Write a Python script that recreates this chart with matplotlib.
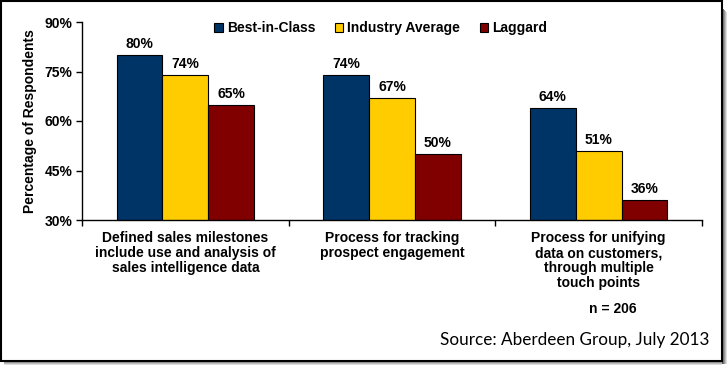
import numpy as np
import matplotlib
matplotlib.use("Agg")
import matplotlib.pyplot as plt
from matplotlib.patches import Rectangle

# data
categories = ["Defined sales milestones\ninclude use and analysis of\nsales intelligence data",
              "Process for tracking\nprospect engagement",
              "Process for unifying\ndata on customers,\nthrough multiple\ntouch points"]
series = ["Best-in-Class", "Industry Average", "Laggard"]
best = [80, 74, 64]
industry = [74, 67, 51]
laggard = [65, 50, 36]
yticks = [30, 45, 60, 75, 90]
colors = ["#003366", "#FFCC00", "#800000"]

W, H = 727, 365
plt.rcParams['font.family'] = ['Liberation Sans', 'DejaVu Sans']
fig = plt.figure(figsize=(W / 100, H / 100), dpi=100)

def px(x0, y0, x1, y1):
    # pixel box -> figure fraction rect
    return [x0 / W, 1 - y1 / H, (x1 - x0) / W, (y1 - y0) / H]

# border and drop shadow
for i, g in enumerate(["#555555", "#777777", "#999999", "#bbbbbb", "#dddddd"]):
    fig.patches.append(Rectangle((722 / W + i / W, 1 - (360 + 4) / H + 0), 1 / W, (360 - 4 - i) / H,
                                 transform=fig.transFigure, color=g, lw=0))
    fig.patches.append(Rectangle((4 / W, 1 - (361 + i) / H), (718 - 0) / W, 1 / H,
                                 transform=fig.transFigure, color=g, lw=0))
fig.patches.append(Rectangle((0.5 / W, 1 - 360.5 / H), 721.5 / W, 360 / H,
                             transform=fig.transFigure, fill=False, ec="black", lw=1.5))

ax = fig.add_axes(px(82, 22, 702, 220))
x = np.arange(len(categories))
bw = 0.222
for k, (vals, name) in enumerate(zip([best, industry, laggard], series)):
    pos = x + (k - 1) * bw
    ax.bar(pos, vals, bw, bottom=0, color=colors[k], edgecolor="black", linewidth=0.8, label=name)
    for p, v in zip(pos, vals):
        ax.text(p, v + 1.2, f"{v}%", ha="center", va="bottom", fontsize=10, fontweight="bold")

ax.set_xlim(-0.5, len(categories) - 0.5)
ax.set_ylim(30, 90)
ax.set_yticks(yticks)
ax.set_yticklabels([f"{t}%" for t in yticks], fontsize=10, fontweight="bold")
ax.set_xticks(np.arange(len(categories) + 1) - 0.5)
ax.set_xticklabels([])
ax.tick_params(axis="x", length=4, width=1)
ax.tick_params(axis="y", length=4, width=1, pad=3)
for s in ["top", "right"]:
    ax.spines[s].set_visible(False)
for s in ["left", "bottom"]:
    ax.spines[s].set_linewidth(1)

for i, c in enumerate(categories):
    ax.text(i, 26.6, c, ha="center", va="top", fontsize=10, fontweight="bold", linespacing=1.08)

ax.set_ylabel("Percentage of Respondents", fontsize=10, fontweight="bold", labelpad=5)

ax.legend(loc="upper center", bbox_to_anchor=(0.482, 1.068), ncol=3, frameon=False,
          prop={"size": 10, "weight": "bold"}, handlelength=0.6, handleheight=0.6,
          handletextpad=0.3, columnspacing=1.4)

fig.text(613 / W, 1 - 309 / H, "n = 206", ha="center", va="center", fontsize=10, fontweight="bold")
fig.text(709 / W, 1 - 340 / H, "Source: Aberdeen Group, July 2013", ha="right", va="center",
         fontsize=12.3, family=["Lato", "DejaVu Sans"])

fig.savefig("out.png", dpi=100)
